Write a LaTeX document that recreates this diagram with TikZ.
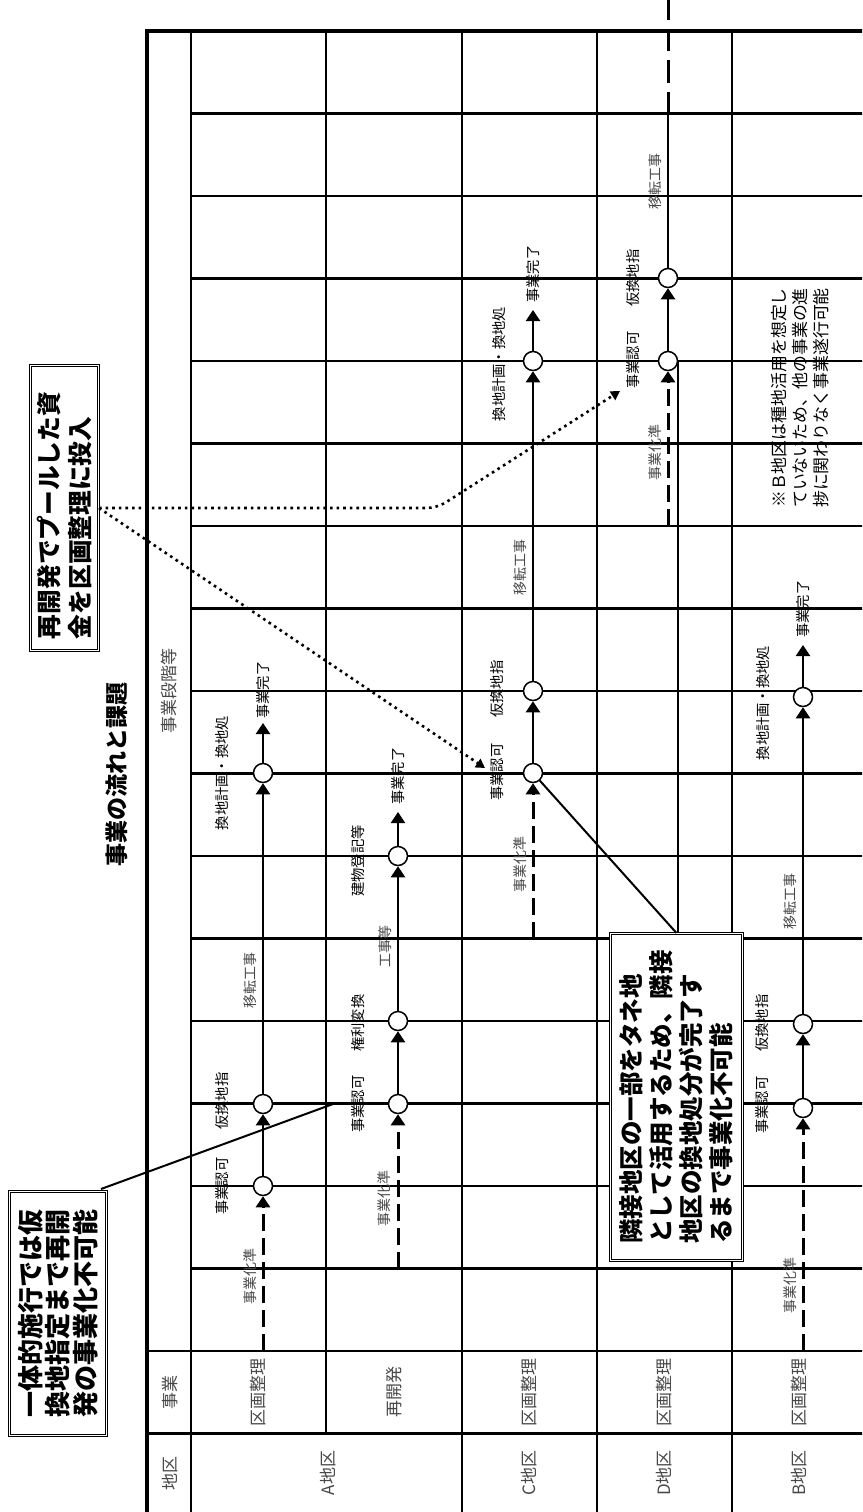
\documentclass[tikz,border=0pt]{standalone}
\usepackage{fontspec}
\setmainfont{Noto Sans CJK JP}
\usetikzlibrary{arrows.meta}
\begin{document}
\begin{tikzpicture}[x=1pt,y=-1pt,
  grid/.style={line width=2.1pt},
  frame/.style={line width=3.8pt},
  flow/.style={line width=2.4pt},
  prep/.style={line width=3pt, dash pattern=on 17pt off 7pt},
  link/.style={line width=2.8pt, dash pattern=on 9pt off 6pt},
  ms/.style={circle, draw, fill=white, line width=1.5pt, minimum size=19pt, inner sep=0pt},
  tip/.style={-{Triangle[width=14pt,length=11pt]}},
  lbl/.style={rotate=90, inner sep=0pt, font=\fontsize{14.3}{14}\selectfont},
  mlbl/.style={rotate=90, inner sep=0pt, text=black!72, font=\fontsize{14}{14}\selectfont},
  hdr/.style={rotate=90, inner sep=0pt, text=black!72, font=\fontsize{17}{17}\selectfont},
  callout/.style={rotate=90, draw, double, double distance=1.6pt, line width=1pt, fill=white, align=left},
  dots/.style={line width=2.6pt, dash pattern=on 2.6pt off 4pt},
  pointer/.style={line width=2pt}]
\useasboundingbox (0,0) rectangle (862,1512);
\clip (0,0) rectangle (862,1512);

% grid
\foreach \k in {1,...,15} {
  \draw[grid] (191,{31+82.5*\k}) -- (870,{31+82.5*\k});
}
\draw[grid] (147,1351) -- (870,1351);
\draw[grid] (147,1433.5) -- (870,1433.5);
\foreach \xx in {191,462,597,732} {
  \draw[grid] (\xx,31) -- (\xx,1520);
}
\draw[grid] (326,31) -- (326,1433.5);
\draw[frame] (147,1520) -- (147,31) -- (870,31);

% headers
\node[hdr] (hstage) at (169,691) {事業段階等};
\node[hdr] (hjigyo) at (170,1392) {事業};
\node[hdr] (hchiku) at (170,1473) {地区};
\node[hdr] (pA1) at (258,1392) {区画整理};
\node[hdr] (pA2) at (394,1392) {再開発};
\node[hdr] (pC) at (529,1392) {区画整理};
\node[hdr] (pD) at (664,1392) {区画整理};
\node[hdr] (pB) at (799,1392) {区画整理};
\node[hdr] (dA) at (328,1473) {A地区};
\node[hdr] (dC) at (529,1473) {C地区};
\node[hdr] (dD) at (664,1473) {D地区};
\node[hdr] (dB) at (799,1473) {B地区};

% title
\node[rotate=90, font=\bfseries\fontsize{23}{23}\selectfont] (title) at (117,774) {事業の流れと課題};

% milestones
\coordinate (a0) at (263,1351);
\node[ms] (a1) at (263,1186) {};
\node[ms] (a2) at (263,1104) {};
\node[ms] (a3) at (263,773) {};
\coordinate (a4) at (263,723);

\coordinate (r0) at (398,1268.5);
\node[ms] (r1) at (398,1104) {};
\node[ms] (r2) at (398,1021) {};
\node[ms] (r3) at (398,856) {};
\coordinate (r4) at (398,812);

\coordinate (c0) at (533,938.5);
\node[ms] (c1) at (533,773) {};
\node[ms] (c2) at (533,691) {};
\node[ms] (c3) at (533,361) {};
\coordinate (c4) at (533,310);

\coordinate (d0) at (668,526);
\node[ms] (d1) at (668,361) {};
\node[ms] (d2) at (668,278) {};
\coordinate (d3) at (668,113.5);
\coordinate (d4) at (668,-4);

\coordinate (b0) at (803,1351);
\node[ms] (b1) at (803,1108) {};
\node[ms] (b2) at (803,1024) {};
\node[ms] (b3) at (803,697) {};
\coordinate (b4) at (803,645);

% flows
\draw[prep,tip] (a0) -- (a1);
\draw[flow,tip] (a1) -- (a2);
\draw[flow,tip] (a2) -- (a3);
\draw[flow,tip] (a3) -- (a4);

\draw[prep,tip] (r0) -- (r1);
\draw[flow,tip] (r1) -- (r2);
\draw[flow,tip] (r2) -- (r3);
\draw[flow,tip] (r3) -- (r4);

\draw[prep,tip] (c0) -- (c1);
\draw[flow,tip] (c1) -- (c2);
\draw[flow,tip] (c2) -- (c3);
\draw[flow,tip] (c3) -- (c4);

\draw[prep,tip] (d0) -- (d1);
\draw[flow,tip] (d1) -- (d2);
\draw[flow] (d2) -- (d3);
\draw[line width=3pt, dash pattern=on 22pt off 9pt] (d3) -- (d4);

\draw[prep,tip] (b0) -- (b1);
\draw[flow,tip] (b1) -- (b2);
\draw[flow,tip] (b2) -- (b3);
\draw[flow,tip] (b3) -- (b4);

% dependency links
\draw[link] (a2) -- (r1);
\draw[link] (a3) -- (c1);
\draw[link] (c3) -- (d1);

% milestone labels
\node[lbl] (la1) at (222,1186) {事業認可};
\node[lbl] (la2) at (222,1101) {仮換地指};
\node[lbl] (la3) at (222,773) {換地計画・換地処};
\node[lbl] (la4) at (263,690) {事業完了};
\node[lbl] (lr1) at (358,1104) {事業認可};
\node[lbl] (lr2) at (358,1023) {権利変換};
\node[lbl] (lr3) at (358,861) {建物登記等};
\node[lbl] (lr4) at (398,776) {事業完了};
\node[lbl] (lc1) at (497,772) {事業認可};
\node[lbl] (lc2) at (497,689) {仮換地指};
\node[lbl] (lc3) at (499,364) {換地計画・換地処};
\node[lbl] (lc4) at (533,274) {事業完了};
\node[lbl] (ld1) at (633,360) {事業認可};
\node[lbl] (ld2) at (633,278) {仮換地指};
\node[lbl] (lb1) at (762,1105) {事業認可};
\node[lbl] (lb2) at (762,1023) {仮換地指};
\node[lbl] (lb3) at (763,703) {換地計画・換地処};
\node[lbl] (lb4) at (803,609) {事業完了};

\node[mlbl] (ma1) at (250,1276) {事業化準};
\node[mlbl] (ma2) at (250,980) {移転工事};
\node[mlbl] (mr1) at (384,1198) {事業化準};
\node[mlbl] (mr2) at (385,946) {工事等};
\node[mlbl] (mc1) at (520,864) {事業化準};
\node[mlbl] (mc2) at (520,567) {移転工事};
\node[mlbl] (md1) at (655,452) {事業化準};
\node[mlbl] (md2) at (655,181) {移転工事};
\node[mlbl] (mb1) at (790,1285) {事業化準};
\node[mlbl] (mb2) at (790,901) {移転工事};

% note
\node[rotate=90, align=left, inner sep=0pt, font=\fontsize{16.9}{21}\selectfont] (note) at (800,398)
  {※Ｂ地区は種地活用を想定し\\ていないため、他の事業の進\\捗に関わりなく事業遂行可能};

% callout 1
\node[callout, minimum width=244pt, minimum height=97pt, font=\bfseries\fontsize{26}{27.5}\selectfont] (box1) at (58,1313.5)
  {一体的施行では仮\\換地指定まで再開\\発の事業化不可能};
\coordinate (k0) at (101,1189);
\coordinate (k1) at (333,1104);
\draw[pointer] (k0) -- (k1);

% callout 3
\node[callout, minimum width=327pt, minimum height=132pt, font=\bfseries\fontsize{24.5}{30}\selectfont] (box3) at (676.5,1097)
  {隣接地区の一部をタネ地\\として活用するため、隣接\\地区の換地処分が完了す\\るまで事業化不可能};
\draw[pointer] (c1) -- (box3.east);
\draw[pointer] (d1.east) -- (d1.east |- box3.east);

% callout 2
\node[callout, minimum width=285pt, minimum height=68pt, text width=262pt, inner xsep=11pt, font=\bfseries\fontsize{24.7}{31}\selectfont] (box2) at (64.5,508)
  {再開発でプールした資\\金を区画整理に投入};
\coordinate (q1) at (437,508);
\coordinate (t1) at (485,768);
\coordinate (t2) at (620,391);
\draw[dots,-{Triangle[width=10pt,length=9pt]}] (box2.south) -- (t1);
\draw[dots,rounded corners=10pt,-{Triangle[width=10pt,length=9pt]}] (box2.south) -- (q1) -- (t2);
\end{tikzpicture}
\end{document}
